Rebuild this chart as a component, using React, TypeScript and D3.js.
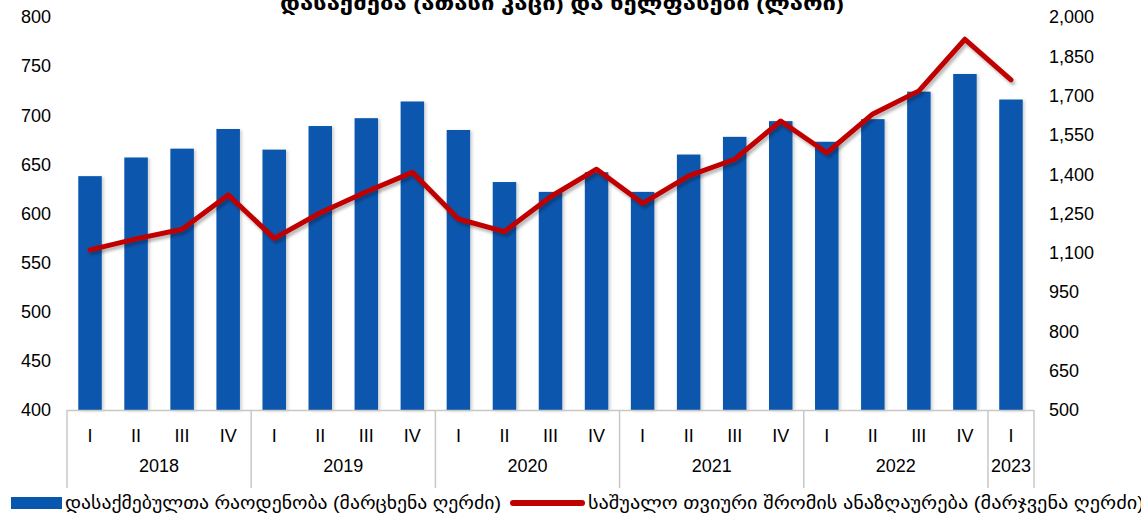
import React from "react";
import * as d3 from "d3";

const years = ["2018", "2019", "2020", "2021", "2022", "2023"];
const quarters = ["I", "II", "III", "IV"];
const quartersPerYear = [4, 4, 4, 4, 4, 1];

// employed, thousand persons (left axis)
const employed = [
  638, 657, 666, 686, 665, 689, 697, 714, 685, 632, 622, 642, 622, 660, 678,
  694, 673, 696, 724, 742, 716,
];
// average monthly wage, GEL (right axis)
const wages = [
  1111, 1153, 1190, 1321, 1155, 1253, 1333, 1407, 1229, 1181, 1314, 1419,
  1289, 1394, 1457, 1603, 1482, 1630, 1718, 1915, 1760,
];

const leftTicks = [400, 450, 500, 550, 600, 650, 700, 750, 800];
const rightTicks = [500, 650, 800, 950, 1100, 1250, 1400, 1550, 1700, 1850, 2000];

const title = "დასაქმება (ათასი კაცი) და ხელფასები (ლარი)";
const barLabel = "დასაქმებულთა რაოდენობა (მარცხენა ღერძი)";
const lineLabel = "საშუალო თვიური შრომის ანაზღაურება (მარჯვენა ღერძი)";

const W = 1141;
const H = 515;
const font = "'Liberation Sans', Arial, 'DejaVu Sans', sans-serif";

export default function App() {
  // build category keys like "2018-I"
  const cats: { key: string; q: string; year: string }[] = [];
  years.forEach((y, i) => {
    for (let k = 0; k < quartersPerYear[i]; k++) {
      cats.push({ key: `${y}-${quarters[k]}`, q: quarters[k], year: y });
    }
  });

  const x = d3
    .scaleBand()
    .domain(cats.map((c) => c.key))
    .range([67, 1034])
    .paddingInner(0.49)
    .paddingOuter(0.245);
  const step = x.step();
  const yL = d3.scaleLinear().domain([400, 800]).range([410, 17]);
  const yR = d3.scaleLinear().domain([500, 2000]).range([410, 17]);

  const line = d3
    .line<number>()
    .x((_, i) => x(cats[i].key)! + x.bandwidth() / 2)
    .y((d) => yR(d));

  // group boundaries
  let start = 0;
  const groups = years.map((y, i) => {
    const g = { year: y, from: start, to: start + quartersPerYear[i] };
    start += quartersPerYear[i];
    return g;
  });
  const bx = (i: number) => 67 + i * step;

  return (
    <svg
      width={W}
      height={H}
      style={{ position: "absolute", left: 0, top: 0, background: "#fff" }}
      fontFamily={font}
    >
      <defs>
        <filter id="shadow" x="-20%" y="-20%" width="140%" height="140%">
          <feDropShadow dx="2" dy="3" stdDeviation="1.8" floodColor="#000" floodOpacity="0.28" />
        </filter>
        <filter id="barShadow" x="-30%" y="-10%" width="160%" height="120%">
          <feDropShadow dx="2" dy="1" stdDeviation="1.5" floodColor="#000" floodOpacity="0.18" />
        </filter>
      </defs>

      <text
        x={562}
        y={10}
        textAnchor="middle"
        fontWeight="bold"
        fontSize={19}
        textLength={564}
        lengthAdjust="spacingAndGlyphs"
      >
        {title}
      </text>

      {/* left axis */}
      {leftTicks.map((t) => (
        <text key={t} x={51} y={yL(t)} dy="0.35em" textAnchor="end" fontSize={18} fill="#000">
          {t}
        </text>
      ))}
      {/* right axis */}
      {rightTicks.map((t) => (
        <text key={t} x={1049} y={yR(t)} dy="0.35em" textAnchor="start" fontSize={18} fill="#000">
          {d3.format(",")(t)}
        </text>
      ))}

      {/* bars */}
      <g filter="url(#barShadow)">
        {employed.map((v, i) => (
          <rect
            key={cats[i].key}
            x={x(cats[i].key)}
            y={yL(v)}
            width={x.bandwidth()}
            height={yL(400) - yL(v)}
            fill="#0757ae"
          />
        ))}
      </g>

      {/* line */}
      <path
        d={line(wages) || ""}
        fill="none"
        stroke="#c00000"
        strokeWidth={5}
        strokeLinejoin="round"
        strokeLinecap="round"
        filter="url(#shadow)"
      />

      {/* category axis */}
      <line x1={67} x2={1034} y1={410.5} y2={410.5} stroke="#c8c8c8" strokeWidth={1.5} />
      {groups.map((g) => (
        <line
          key={"l" + g.year}
          x1={bx(g.from)}
          x2={bx(g.from)}
          y1={410}
          y2={488}
          stroke="#c8c8c8"
          strokeWidth={1.5}
        />
      ))}
      <line x1={1034} x2={1034} y1={410} y2={488} stroke="#c8c8c8" strokeWidth={1.5} />
      {cats.map((c) => (
        <text
          key={"q" + c.key}
          x={x(c.key)! + x.bandwidth() / 2}
          y={436}
          dy="0.35em"
          textAnchor="middle"
          fontSize={18}
        >
          {c.q}
        </text>
      ))}
      {groups.map((g) => (
        <text
          key={"y" + g.year}
          x={(bx(g.from) + bx(g.to)) / 2}
          y={466}
          dy="0.35em"
          textAnchor="middle"
          fontSize={18}
        >
          {g.year}
        </text>
      ))}

      {/* legend */}
      <rect x={11} y={497} width={51} height={12} fill="#0757ae" />
      <text x={65} y={503} dy="0.35em" fontSize={18} textLength={436} lengthAdjust="spacingAndGlyphs">
        {barLabel}
      </text>
      <line x1={513} x2={582} y1={503} y2={503} stroke="#c00000" strokeWidth={6} strokeLinecap="round" />
      <text x={588} y={503} dy="0.35em" fontSize={18} textLength={556} lengthAdjust="spacingAndGlyphs">
        {lineLabel}
      </text>
    </svg>
  );
}
